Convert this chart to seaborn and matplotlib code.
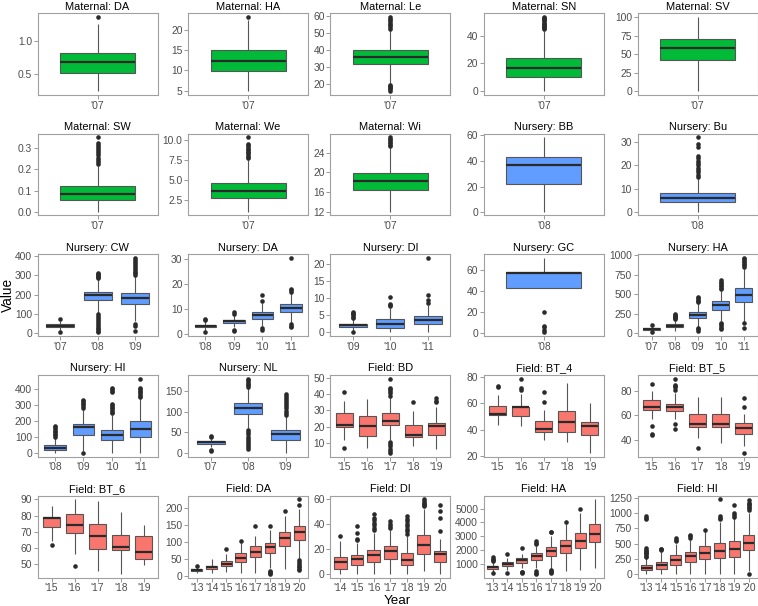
import numpy as np
import pandas as pd
import matplotlib
matplotlib.use("Agg")
import matplotlib.pyplot as plt
import seaborn as sns

sns.set_theme(style="white")
plt.rcParams["font.family"] = ["Liberation Sans", "DejaVu Sans"]

# ---------------- data ----------------
TITLES = ["Maternal: DA", "Maternal: HA", "Maternal: Le", "Maternal: SN", "Maternal: SV",
          "Maternal: SW", "Maternal: We", "Maternal: Wi", "Nursery: BB", "Nursery: Bu",
          "Nursery: CW", "Nursery: DA", "Nursery: DI", "Nursery: GC", "Nursery: HA",
          "Nursery: HI", "Nursery: NL", "Field: BD", "Field: BT_4", "Field: BT_5",
          "Field: BT_6", "Field: DA", "Field: DI", "Field: HA", "Field: HI"]

Y07 = ["'07"]
Y08 = ["'08"]
YEARS = [Y07, Y07, Y07, Y07, Y07,
         Y07, Y07, Y07, Y08, Y08,
         ["'07", "'08", "'09"], ["'08", "'09", "'10", "'11"], ["'09", "'10", "'11"], Y08,
         ["'07", "'08", "'09", "'10", "'11"],
         ["'08", "'09", "'10", "'11"], ["'07", "'08", "'09"],
         ["'15", "'16", "'17", "'18", "'19"], ["'15", "'16", "'17", "'18", "'19"],
         ["'15", "'16", "'17", "'18", "'19"], ["'15", "'16", "'17", "'18", "'19"],
         ["'13", "'14", "'15", "'16", "'17", "'18", "'19", "'20"],
         ["'14", "'15", "'16", "'17", "'18", "'19", "'20"],
         ["'13", "'14", "'15", "'16", "'17", "'18", "'19", "'20"],
         ["'13", "'14", "'15", "'16", "'17", "'18", "'19", "'20"]]

# lower whisker end, first quartile, median, third quartile, upper whisker end
LOWER = [[0.23], [4.8], [19.5], [0.0], [0.0],
         [0.0], [1.0], [12.0], [0.5], [0.0],
         [18, 106, 66], [1.2, 2.8, 3.0, 4.5], [0.5, 0.0, 0.0], [43.0],
         [20, 30, 80, 150, 140],
         [0, 10, 0, 0], [15, 60, 0],
         [12, 7, 12, 8, 6.3], [44, 43, 32.5, 30.5, 22.5], [57, 57, 41.6, 37.6, 35],
         [64, 56, 46, 44, 49.5],
         [7, 8, 10, 8, 8, 22, 20, 50],
         [0, 0, 0, 0, 0, 2, 0],
         [450, 600, 700, 700, 650, 500, 550, 700],
         [0, 0, 0, 0, 0, 0, 0, 50]]
Q1 = [[0.52], [9.9], [31.8], [10.5], [42.0],
      [0.055], [2.67], [16.5], [22.0], [4.0],
      [33, 172, 152], [2.6, 4.5, 6.1, 8.8], [1.7, 1.2, 2.4], [43.0],
      [40, 72, 193, 300, 399],
      [17, 116, 79, 100], [23, 95, 31],
      [20, 14.3, 21, 13.9, 15.1], [51, 50.5, 38.3, 38.3, 36], [64.6, 63.2, 50.8, 50.8, 44.3],
      [73, 69.2, 59.2, 58.6, 53.4],
      [14, 20, 29, 41, 54, 67, 88, 105],
      [4, 6.9, 9.5, 12.2, 6.9, 15.9, 9.5],
      [680, 858, 1095, 1284, 1591, 1805, 2160, 2586],
      [67, 72, 150, 190, 251, 262, 279, 396]]
MEDIAN = [[0.685], [12.3], [36.0], [16.5], [58.5],
          [0.083], [3.55], [18.2], [37.0], [6.0],
          [40, 196, 184], [3.1, 5.1, 7.6, 10.5], [2.1, 2.6, 3.6], [57.5],
          [52, 92, 236, 356, 485],
          [29, 162, 110, 149], [26, 108, 45],
          [21.2, 20.4, 23.3, 14.9, 20.4], [52, 57, 40.7, 46, 43], [66.8, 66.8, 53, 53, 49.2],
          [78.8, 74, 67.4, 60.8, 57.4],
          [16, 25, 36, 53, 69, 85, 111, 129],
          [9.5, 12.2, 15.4, 18, 11.4, 23.3, 15.9],
          [770, 1024, 1284, 1591, 1923, 2278, 2657, 3154],
          [95, 140, 234, 290, 351, 385, 402, 513]]
Q3 = [[0.825], [15.0], [40.2], [23.8], [71.0],
      [0.12], [4.65], [19.9], [43.0], [8.0],
      [46, 216, 210], [3.7, 5.7, 8.8, 12.0], [2.6, 3.8, 4.8], [58.3],
      [62, 112, 270, 407, 579],
      [50, 184, 145, 199], [29, 121, 55],
      [28.2, 26.3, 28.2, 21, 22], [58, 57.5, 47, 54, 46], [72.2, 69.2, 61.4, 61.4, 53.8],
      [79, 81, 75, 68.2, 67.4],
      [20, 30, 43, 68, 88, 97, 129, 145],
      [13.5, 14.9, 19.1, 22, 16.7, 30.8, 18.6],
      [850, 1142, 1426, 1781, 2231, 2728, 3225, 3864],
      [150, 195, 307, 363, 452, 513, 541, 642]]
UPPER = [[1.27], [22.3], [52.0], [43.5], [100.0],
         [0.215], [7.5], [25.0], [58.5], [14.0],
         [62, 280, 297], [5.2, 7.4, 12.5, 16.5], [3.9, 7.2, 8.0], [72.0],
         [95, 170, 380, 540, 830],
         [95, 280, 240, 345], [33, 158, 90],
         [36, 37, 38, 29.8, 32], [66, 67, 55, 75.5, 60], [80, 78, 75, 75, 61],
         [86, 90, 89, 82, 74],
         [28, 48, 65, 95, 118, 135, 176, 195],
         [26, 25, 33, 35, 30, 52, 28],
         [1150, 1450, 1700, 2300, 3000, 3900, 4700, 5660],
         [270, 360, 500, 560, 700, 860, 920, 1000]]

OUTLIERS = [
    [[1.375]],
    [[23.1]],
    [[52.5, 53.5, 54.5, 55.5, 56.5, 57.5, 58.5, 59.5, 19.0, 18.5, 18.0, 17.5, 17.0, 15.5]],
    [[44.5, 45.3, 46.1, 46.9, 47.7, 48.5, 49.3, 50.1, 50.9, 51.7, 52.5, 53.3]],
    [[]],
    [[0.225, 0.235, 0.245, 0.255, 0.265, 0.275, 0.285, 0.295, 0.305, 0.315, 0.325, 0.35]],
    [[7.7, 7.9, 8.1, 8.3, 8.5, 8.7, 8.9, 9.1, 9.3, 9.5, 10.3]],
    [[25.3, 25.6, 25.9, 26.2, 26.5, 26.8, 27.1]],
    [[]],
    [[15, 16, 17, 18, 19, 20, 21, 22, 23, 24, 28, 29, 32]],
    [[75, 5],
     [285, 290, 295, 300, 305, 310, 100, 90, 80, 70, 60, 50, 40, 30, 20, 10, 5],
     [300, 310, 320, 330, 340, 350, 360, 370, 380, 390, 50, 36, 14]],
    [[5.6, 6.0, 0.6], [8.0, 8.6, 1.5, 1.0], [13.2, 15.8, 2.2, 1.6],
     [17.0, 17.5, 18.0, 30.5, 4.0, 3.3, 2.7]],
    [[4.2, 4.6, 5.0, 5.4, 5.8, 6.1, 0.1], [7.6, 8.0, 8.3, 10.4], [8.5, 9.5, 10.9, 21.8]],
    [[20, 7, 5.5, 2.5, 0.5]],
    [[105, 8], [180, 190, 200, 210, 220, 230, 245], [400, 415, 430, 445, 460, 30, 50, 64],
     [560, 580, 600, 620, 640, 660, 685, 50, 70, 90, 110, 130],
     [850, 870, 890, 910, 930, 950, 965, 130, 60]],
    [[100, 110, 120, 130, 140, 150, 160, 170], [285, 295, 305, 315, 325, 335, 0],
     [250, 260, 270, 280, 290, 300, 310, 380, 390, 400, 405],
     [350, 360, 370, 380, 390, 400, 410, 465]],
    [[42, 38, 8, 5],
     [160, 164, 168, 172, 176, 180, 55, 50, 45, 40, 35, 30, 25, 20, 15, 10],
     [93, 98, 103, 108, 113, 118, 123, 128, 133, 138, 143]],
    [[41.6, 6.7], [], [39, 40.5, 42, 43, 44, 49.5, 10.4, 9, 8, 6, 5, 3.7], [35.3], [34.9, 36, 37.5]],
    [[72, 73], [70, 71.5, 78.5], [61, 68.5], [], []],
    [[86, 51, 45, 44], [81, 83, 84, 85, 90, 53, 49], [33], [], [74, 67, 29]],
    [[62], [49], [], [], []],
    [[30], [], [80], [103], [145], [145, 15, 12, 9, 6], [191],
     [208, 224, 45, 40, 35, 30, 25, 20, 16]],
    [[30.5], [27, 28, 33, 38], [35, 37, 39, 41, 43, 45, 47.5], [37, 38.5, 40, 42],
     [32, 34, 36, 38, 40, 42, 44, 46], [54, 55, 56, 57, 58, 59.5], [34.5, 45, 50, 55]],
    [[1200, 1300, 1400, 1500, 340], [1730, 340], [2200, 390, 420, 450],
     [2450, 2550, 2650, 310, 400, 500], [3300, 3350, 600, 500, 450, 400], [4070], [4950], []],
    [[280, 300, 320, 340, 360, 380, 400, 430, 900, 930, 950], [390, 405, 418], [540, 565, 597],
     [600, 620, 636], [725], [900, 930, 960, 1230], [940, 970, 1000, 1140],
     [1050, 1080, 1100, 1130, 1150, 1175, 1220, 0]],
]

YTICKLABELS = [["0.5", "1.0"], ["5", "10", "15", "20"], ["20", "30", "40", "50", "60"],
               ["0", "20", "40"], ["0", "25", "50", "75", "100"],
               ["0.0", "0.1", "0.2", "0.3"], ["2.5", "5.0", "7.5", "10.0"], ["12", "16", "20", "24"],
               ["0", "20", "40", "60"], ["0", "10", "20", "30"],
               ["0", "100", "200", "300", "400"], ["0", "10", "20", "30"], ["0", "5", "10", "15", "20"],
               ["0", "20", "40", "60"], ["0", "250", "500", "750", "1000"],
               ["0", "100", "200", "300", "400"], ["0", "50", "100", "150"],
               ["10", "20", "30", "40", "50"], ["20", "40", "60", "80"], ["40", "60", "80"],
               ["50", "60", "70", "80", "90"], ["0", "50", "100", "150", "200"],
               ["0", "20", "40", "60"], ["1000", "2000", "3000", "4000", "5000"],
               ["0", "250", "500", "750", "1000", "1250"]]

GROUP_COLORS = {"Maternal": "#00BA38", "Nursery": "#619CFF", "Field": "#F8766D"}

# ---------------- layout (pixels) ----------------
W, H = 758, 606
PANEL_LEFT = [37.7, 188.2, 330.4, 483.8, 637.7]
PANEL_TOP = [13.3, 133.7, 254.3, 375.0, 495.7]
PANEL_W, PANEL_H = 119.8, 81.8

fig = plt.figure(figsize=(W / 100, H / 100), dpi=100)

for i, title in enumerate(TITLES):
    r, c = divmod(i, 5)
    ax = fig.add_axes([PANEL_LEFT[c] / W, 1 - (PANEL_TOP[r] + PANEL_H) / H,
                       PANEL_W / W, PANEL_H / H])
    years = YEARS[i]
    color = GROUP_COLORS[title.split(":")[0]]

    box_rows = []
    for j, yr in enumerate(years):
        for v in (LOWER[i][j], Q1[i][j], MEDIAN[i][j], Q3[i][j], UPPER[i][j]):
            box_rows.append((yr, v))
    box_df = pd.DataFrame(box_rows, columns=["year", "value"])

    sns.boxplot(data=box_df, x="year", y="value", order=years, color=color,
                saturation=1, width=0.75, whis=(0, 100), fliersize=0,
                linecolor="#555555", linewidth=0.8,
                medianprops=dict(color="#2a2a2a", linewidth=1.6),
                capprops=dict(visible=False), ax=ax)

    out_rows = [(yr, v) for j, yr in enumerate(years) for v in OUTLIERS[i][j]]
    if out_rows:
        out_df = pd.DataFrame(out_rows, columns=["year", "value"])
        sns.stripplot(data=out_df, x="year", y="value", order=years, jitter=False,
                      color="#2b2b2b", size=3.3, linewidth=0, ax=ax, zorder=3)

    all_vals = [v for lst in (LOWER[i], UPPER[i]) for v in lst]
    all_vals += [v for grp in OUTLIERS[i] for v in grp]
    lo, hi = min(all_vals), max(all_vals)
    pad = 0.05 * (hi - lo)
    ax.set_ylim(lo - pad, hi + pad)
    ax.set_xlim(-0.6, len(years) - 0.4)

    ticks = [float(t) for t in YTICKLABELS[i]]
    ax.set_yticks(ticks)
    ax.set_yticklabels(YTICKLABELS[i])
    ax.set_xlabel("")
    ax.set_ylabel("")
    ax.set_title(title, fontsize=7.9, pad=2.6, color="black")

    for s in ax.spines.values():
        s.set_visible(True)
        s.set_color("#a0a0a0")
        s.set_linewidth(0.8)
    ax.tick_params(axis="both", length=2.6, width=0.6, color="#888888",
                   labelsize=7.4, labelcolor="#4d4d4d", pad=1.5,
                   left=True, bottom=True)

fig.text(8 / W, 1 - 295.3 / H, "Value", rotation=90, ha="center", va="center",
         fontsize=9.8, color="black")
fig.text(397.7 / W, 1 - 600.5 / H, "Year", ha="center", va="center",
         fontsize=9.6, color="black")

fig.savefig("out.png", dpi=100, facecolor="white")
